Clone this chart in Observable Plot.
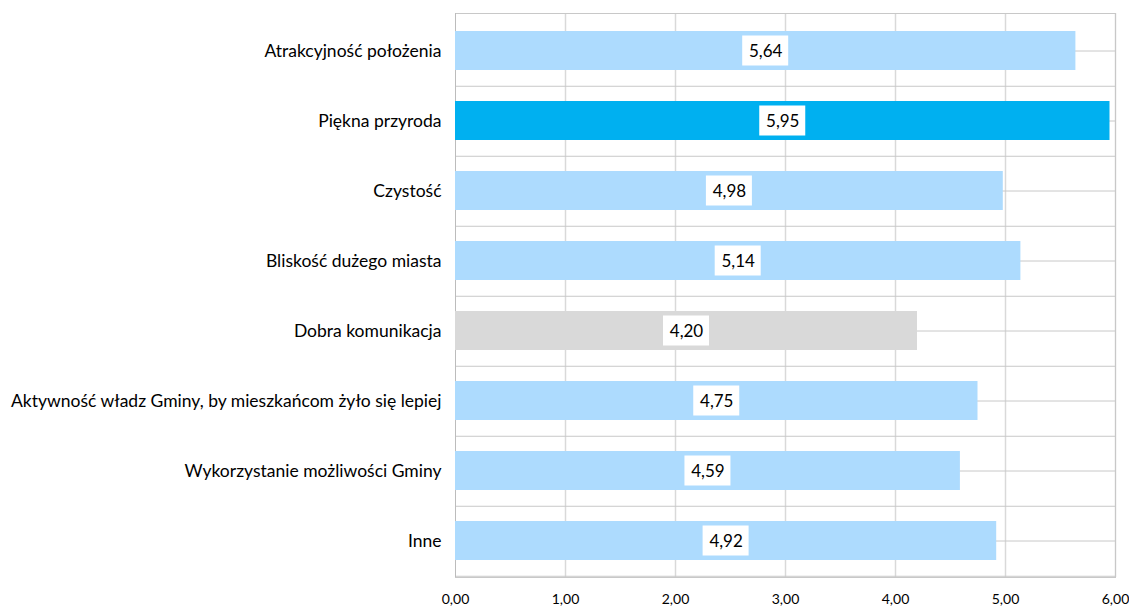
<!DOCTYPE html>
<html><head><meta charset="utf-8">
<script src="https://cdn.jsdelivr.net/npm/d3@7"></script>
<script src="https://cdn.jsdelivr.net/npm/@observablehq/plot@0.6"></script>
<style>body{margin:0;background:#fff}</style>
</head><body><div id="chart"></div>
<script>
const categories = [
  "Atrakcyjność położenia",
  "Piękna przyroda",
  "Czystość",
  "Bliskość dużego miasta",
  "Dobra komunikacja",
  "Aktywność władz Gminy, by mieszkańcom żyło się lepiej",
  "Wykorzystanie możliwości Gminy",
  "Inne"
];
const values = [5.64, 5.95, 4.98, 5.14, 4.20, 4.75, 4.59, 4.92];
const groups = ["base", "highlight", "base", "base", "neutral", "base", "base", "base"];
const xTicks = [0, 1, 2, 3, 4, 5, 6];

const data = categories.map((c, i) => ({category: c, value: values[i], group: groups[i]}));
const fmt = v => v.toFixed(2).replace(".", ",");

const chart = Plot.plot({
  width: 1129, height: 608,
  marginLeft: 455, marginRight: 14, marginTop: 13, marginBottom: 31,
  style: {fontFamily: "Lato, sans-serif", background: "white", color: "#000"},
  x: {domain: [0, 6], ticks: xTicks, label: null},
  y: {domain: categories, paddingInner: 0.45, paddingOuter: 0.225, label: null},
  color: {domain: ["base", "highlight", "neutral"], range: ["#ADDBFE", "#00B0F0", "#D9D9D9"]},
  marks: [
    Plot.ruleX(xTicks.slice(1), {stroke: "#d9d9d9", strokeWidth: 1.5}),
    Plot.ruleY(categories, {y: d => d, stroke: "#c8c8c8"}),
    Plot.ruleY(categories, {y: d => d, dy: 35.25, stroke: "#c8c8c8"}),
    Plot.frame({stroke: "#c8c8c8"}),
    Plot.ruleX([0], {stroke: "#bcbcbc"}),
    Plot.barX(data, {y: "category", x: "value", fill: "group"}),
    Plot.barX(data, {y: "category", x1: d => d.value / 2, x2: d => d.value / 2,
      insetLeft: -23, insetRight: -23, insetTop: 4.5, insetBottom: 4.5, fill: "white"}),
    Plot.text(data, {y: "category", x: d => d.value / 2, text: d => fmt(d.value),
      fontSize: 17, fill: "#000", dy: 1}),
    Plot.axisX({ticks: xTicks, tickFormat: fmt, tickSize: 0, tickPadding: 17, fontSize: 14, label: null}),
    Plot.axisY({tickSize: 0, tickPadding: 14, fontSize: 17.5, label: null})
  ]
});
document.getElementById("chart").appendChild(chart);
</script>
</body></html>
